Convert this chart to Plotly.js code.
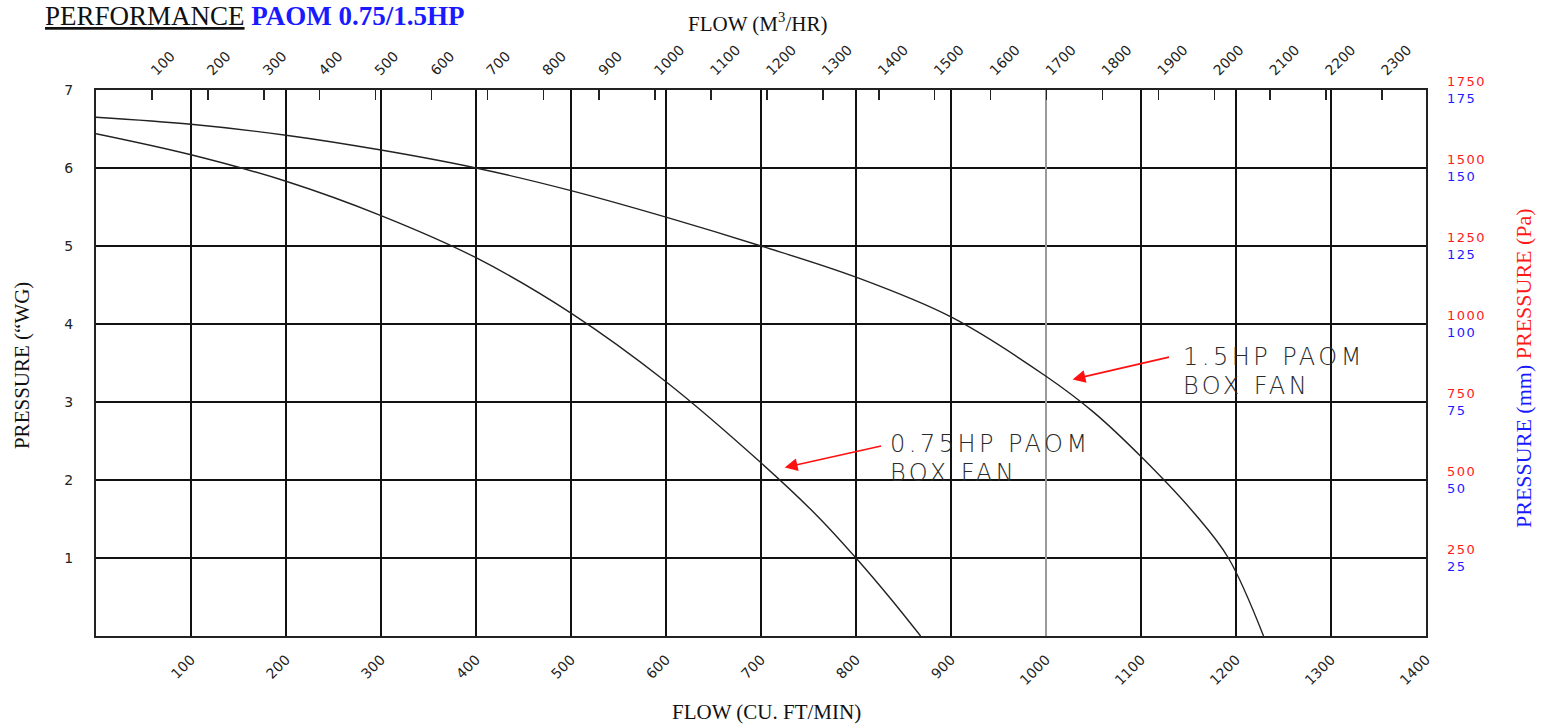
<!DOCTYPE html>
<html>
<head>
<meta charset="utf-8">
<script src="https://cdn.plot.ly/plotly-3.0.1.min.js"></script>
<style>
  html, body { margin: 0; padding: 0; background: #ffffff; }
  #chart { width: 1541px; height: 724px; }
</style>
</head>
<body>
<div id="chart"></div>
<script>
// ---- data ----
const cfmTicks = [100, 200, 300, 400, 500, 600, 700, 800, 900, 1000, 1100, 1200, 1300, 1400];
const cfmGreyGrid = [1000];
const m3hrTicks = [100, 200, 300, 400, 500, 600, 700, 800, 900, 1000, 1100, 1200, 1300, 1400, 1500, 1600, 1700, 1800, 1900, 2000, 2100, 2200, 2300];
const inwgTicks = [1, 2, 3, 4, 5, 6, 7];
const paLabels = [250, 500, 750, 1000, 1250, 1500, 1750];
const mmLabels = [25, 50, 75, 100, 125, 150, 175];

// 1.5HP PAOM box fan (CFM, in. WG)
const flow15 = [0, 100, 200, 300, 400, 500, 600, 700, 800, 900, 1000, 1050, 1100, 1157, 1192, 1229];
const pres15 = [6.65, 6.56, 6.42, 6.23, 6.00, 5.71, 5.37, 5.00, 4.60, 4.09, 3.33, 2.87, 2.30, 1.56, 1.00, 0.00];

// 0.75HP PAOM box fan (CFM, in. WG)
const flow075 = [0, 100, 200, 300, 400, 500, 600, 700, 760, 800, 835, 868];
const pres075 = [6.44, 6.17, 5.83, 5.39, 4.85, 4.14, 3.26, 2.22, 1.53, 1.00, 0.50, 0.00];

const curveNames = [['1.5HP PAOM', 'BOX FAN'], ['0.75HP PAOM', 'BOX FAN']];

const CFM_MAX = 1400;
const CFM_TO_M3HR = 1.699;

// ---- figure ----
const lineStyle = {color: '#222222', width: 1.4, shape: 'spline', smoothing: 1};
const hidden = {color: 'rgba(0,0,0,0)', width: 0};
const traces = [
  {x: flow15, y: pres15, type: 'scatter', mode: 'lines', line: lineStyle, hoverinfo: 'skip'},
  {x: flow075, y: pres075, type: 'scatter', mode: 'lines', line: lineStyle, hoverinfo: 'skip'},
  // same curve on the secondary scales so that the top (m3/hr), right (Pa / mm) and grey-grid axes are drawn
  {x: flow15.map(v => v * CFM_TO_M3HR), y: pres15, xaxis: 'x2', yaxis: 'y', type: 'scatter', mode: 'lines', line: hidden, hoverinfo: 'skip'},
  {x: flow15, y: pres15, xaxis: 'x', yaxis: 'y2', type: 'scatter', mode: 'lines', line: hidden, hoverinfo: 'skip'},
  {x: flow15, y: pres15, xaxis: 'x3', yaxis: 'y', type: 'scatter', mode: 'lines', line: hidden, hoverinfo: 'skip'}
];

const tickFont = {family: 'DejaVu Sans', size: 14, color: '#222222'};
const serif = 'Liberation Serif';

const annotations = [
  {xref: 'paper', yref: 'paper', x: -0.0398, y: 1.1355, xanchor: 'left', yanchor: 'middle', showarrow: false,
   text: '<u>PERFORMANCE</u> <b><span style="color:#1a1aff">PAOM 0.75/1.5HP</span></b>',
   font: {family: serif, size: 27, color: '#111111'}},
  {xref: 'paper', yref: 'paper', x: 0.4977, y: 1.1245, xanchor: 'center', yanchor: 'middle', showarrow: false,
   text: 'FLOW (M<sup>3</sup>/HR)', font: {family: serif, size: 21, color: '#111111'}},
  {xref: 'paper', yref: 'paper', x: 0.5045, y: -0.1392, xanchor: 'center', yanchor: 'middle', showarrow: false,
   text: 'FLOW (CU. FT/MIN)', font: {family: serif, size: 21, color: '#111111'}},
  {xref: 'paper', yref: 'paper', x: -0.0556, y: 0.4945, xanchor: 'center', yanchor: 'middle', showarrow: false, textangle: -90,
   text: 'PRESSURE (\u201CWG)', font: {family: serif, size: 21, color: '#111111'}},
  {xref: 'paper', yref: 'paper', x: 1.0729, y: 0.4908, xanchor: 'center', yanchor: 'middle', showarrow: false, textangle: -90,
   text: '<span style="color:#1a1aff">PRESSURE (mm)</span> <span style="color:#ff1a1a">PRESSURE (Pa)</span>',
   font: {family: serif, size: 22}}
];

// label placement (layout, in data coordinates of the CFM / in.WG axes)
const labelPlace = [
  {x: 1142, y1: 3.58, y2: 3.20, head: [1028, 3.29], tail: [1131, 3.58]},
  {x: 834, y1: 2.46, y2: 2.09, head: [725, 2.16], tail: [828, 2.44]}
];
const labelFont = {family: 'DejaVu Sans', size: 24, color: '#2a2a2a', weight: 200};
curveNames.forEach((name, i) => {
  const p = labelPlace[i];
  annotations.push({x: p.x, y: p.y1, xref: 'x', yref: 'y', xanchor: 'left', yanchor: 'middle', showarrow: false,
    text: '<span style="letter-spacing:3.5px">' + name[0] + '</span>', font: labelFont});
  annotations.push({x: p.x, y: p.y2, xref: 'x', yref: 'y', xanchor: 'left', yanchor: 'middle', showarrow: false,
    text: '<span style="letter-spacing:3.5px">' + name[1] + '</span>', font: labelFont});
  annotations.push({x: p.head[0], y: p.head[1], ax: p.tail[0], ay: p.tail[1], xref: 'x', yref: 'y', axref: 'x', ayref: 'y',
    text: '', showarrow: true, arrowhead: 2, arrowsize: 1.6, arrowwidth: 1.6, arrowcolor: '#ff1010', standoff: 0});
});

const layout = {
  width: 1541, height: 724,
  margin: {l: 96, r: 115, t: 90, b: 88, pad: 0},
  paper_bgcolor: '#ffffff', plot_bgcolor: '#ffffff',
  showlegend: false, hovermode: false,
  xaxis: {
    range: [0, CFM_MAX], tickvals: cfmTicks, ticktext: cfmTicks.map(String), tickangle: -45,
    showgrid: true, gridcolor: '#111111', gridwidth: 1.6, zeroline: false,
    showline: true, linecolor: '#222222', linewidth: 2, mirror: true,
    ticks: '', ticklabelstandoff: 8, tickfont: tickFont, fixedrange: true
  },
  xaxis2: {
    overlaying: 'x', side: 'top', anchor: 'y',
    range: [0, CFM_MAX * CFM_TO_M3HR], tickvals: m3hrTicks, ticktext: m3hrTicks.map(String), tickangle: -45,
    showgrid: false, zeroline: false, showline: false,
    ticks: 'inside', ticklen: 10, tickwidth: 1.5, tickcolor: '#222222', ticklabelstandoff: 8, tickfont: tickFont, fixedrange: true
  },
  xaxis3: {
    overlaying: 'x', side: 'bottom', anchor: 'y',
    range: [0, CFM_MAX], tickvals: cfmGreyGrid, showticklabels: false, ticks: '',
    showgrid: true, gridcolor: '#9a9a9a', gridwidth: 2.2, zeroline: false, showline: false, fixedrange: true
  },
  yaxis: {
    range: [0, 7], tickvals: inwgTicks, ticktext: inwgTicks.map(String),
    showgrid: true, gridcolor: '#111111', gridwidth: 1.6, zeroline: false,
    showline: true, linecolor: '#222222', linewidth: 2, mirror: true,
    ticks: '', ticklabelstandoff: 18, tickfont: tickFont, fixedrange: true
  },
  yaxis2: {
    overlaying: 'y', side: 'right', anchor: 'x',
    range: [0, 7], tickvals: inwgTicks,
    ticktext: inwgTicks.map((v, i) => '<span style="color:#ff1a1a;letter-spacing:1.5px">' + paLabels[i] + '</span><br><span style="color:#1a1aff;letter-spacing:1.5px">' + mmLabels[i] + '</span>'),
    showgrid: false, zeroline: false, showline: false,
    ticks: '', ticklabelstandoff: 20, tickfont: {family: 'DejaVu Sans', size: 13, color: '#222222'}, fixedrange: true
  },
  annotations: annotations
};

Plotly.newPlot('chart', traces, layout, {displayModeBar: false, staticPlot: true});
</script>
</body>
</html>
